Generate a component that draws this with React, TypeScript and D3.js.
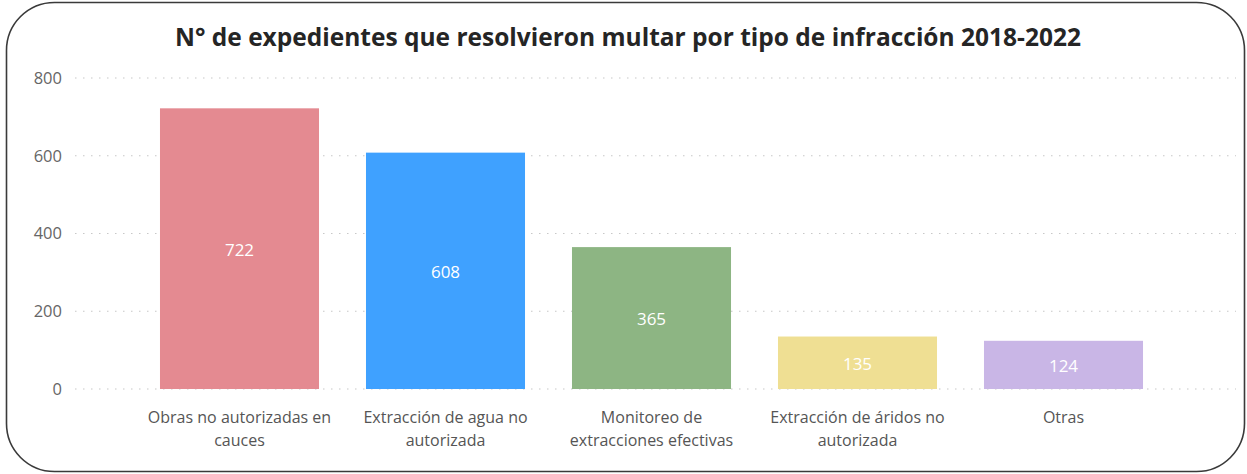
import { useEffect, useRef } from 'react';
import * as d3 from 'd3';

const categories = [
  ['Obras no autorizadas en', 'cauces'],
  ['Extracción de agua no', 'autorizada'],
  ['Monitoreo de', 'extracciones efectivas'],
  ['Extracción de áridos no', 'autorizada'],
  ['Otras'],
];
const values = [722, 608, 365, 135, 124];
const colors = ['#E48A91', '#3FA1FF', '#8DB583', '#EFDF93', '#C9B6E6'];
const yTicks = [0, 200, 400, 600, 800];
const title = 'N° de expedientes que resolvieron multar por tipo de infracción 2018-2022';

export default function App() {
  const svgRef = useRef<SVGSVGElement>(null);

  useEffect(() => {
    const svg = d3.select(svgRef.current);
    svg.selectAll('*').remove();

    const W = 1247;
    const H = 474;
    const font = "'Open Sans', 'Noto Sans', sans-serif";

    svg.attr('width', W).attr('height', H);

    // frame
    svg.append('rect')
      .attr('x', 6.5)
      .attr('y', 2.5)
      .attr('width', 1238)
      .attr('height', 469)
      .attr('rx', 48)
      .attr('fill', '#fff')
      .attr('stroke', '#3a3a3a')
      .attr('stroke-width', 1.6);

    svg.append('text')
      .attr('x', 628)
      .attr('y', 46)
      .attr('text-anchor', 'middle')
      .attr('font-family', font)
      .attr('font-weight', 700)
      .attr('font-size', 24.5)
      .attr('fill', '#252525')
      .text(title);

    const idx = values.map((_, i) => i);
    const x = d3.scaleBand<number>()
      .domain(idx)
      .range([136.5, 1166.5])
      .paddingInner(0.228)
      .paddingOuter(0.114);

    const y = d3.scaleLinear().domain([0, 800]).range([389, 78]);

    // grid
    svg.selectAll('.grid')
      .data(yTicks)
      .join('line')
      .attr('x1', 75)
      .attr('x2', 1236)
      .attr('y1', d => y(d))
      .attr('y2', d => y(d))
      .attr('stroke', '#c8c8c8')
      .attr('stroke-width', 1.2)
      .attr('stroke-dasharray', '1.5,6.5');

    svg.selectAll('.ytick')
      .data(yTicks)
      .join('text')
      .attr('x', 62)
      .attr('y', d => y(d))
      .attr('dy', '0.35em')
      .attr('text-anchor', 'end')
      .attr('font-family', font)
      .attr('font-size', 16.5)
      .attr('fill', '#666')
      .text(d => d);

    svg.selectAll('.bar')
      .data(values)
      .join('rect')
      .attr('x', (_, i) => x(i)!)
      .attr('y', d => y(d))
      .attr('width', x.bandwidth())
      .attr('height', d => y(0) - y(d))
      .attr('fill', (_, i) => colors[i]);

    svg.selectAll('.val')
      .data(values)
      .join('text')
      .attr('x', (_, i) => x(i)! + x.bandwidth() / 2)
      .attr('y', d => (y(d) + y(0)) / 2 + 1)
      .attr('dy', '0.35em')
      .attr('text-anchor', 'middle')
      .attr('font-family', font)
      .attr('font-size', 17)
      .attr('fill', '#fff')
      .text(d => d);

    const labels = svg.selectAll('.xl')
      .data(categories)
      .join('text')
      .attr('text-anchor', 'middle')
      .attr('font-family', font)
      .attr('font-size', 16)
      .attr('fill', '#555');

    labels.each(function (lines, i) {
      d3.select(this)
        .selectAll('tspan')
        .data(lines)
        .join('tspan')
        .attr('x', x(i)! + x.bandwidth() / 2)
        .attr('y', (_, j) => 423 + j * 23)
        .text(t => t);
    });
  }, []);

  return (
    <div style={{ position: 'absolute', left: 0, top: 0, background: '#fff' }}>
      <svg ref={svgRef} style={{ display: 'block' }}></svg>
    </div>
  );
}
